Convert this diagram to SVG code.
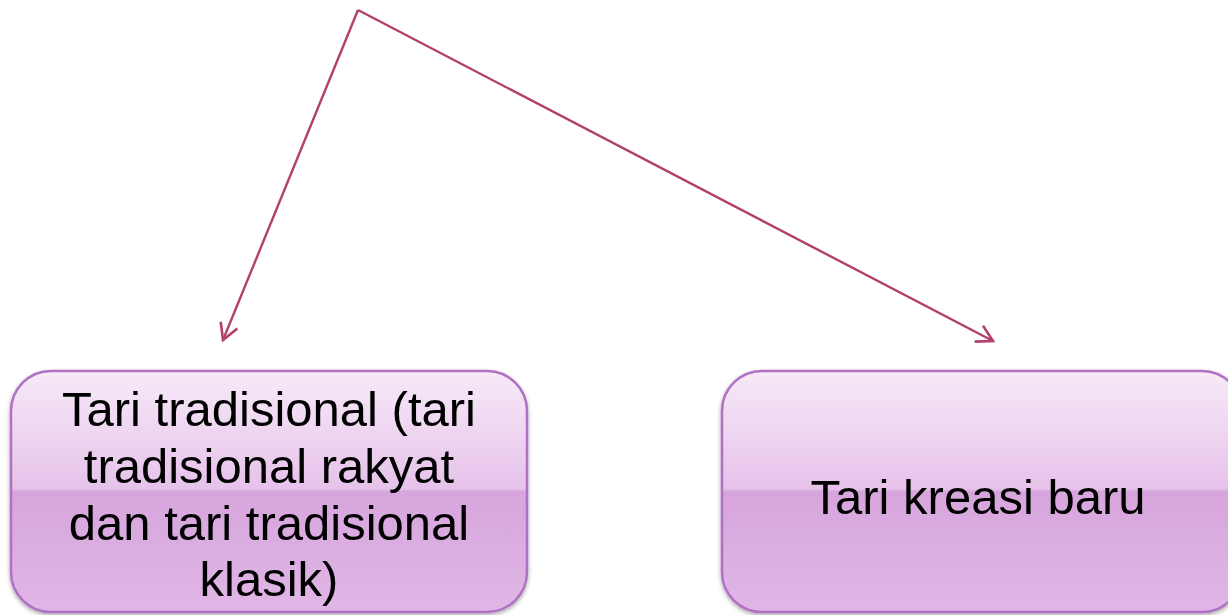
<svg xmlns="http://www.w3.org/2000/svg" width="1228" height="615" viewBox="0 0 1228 615">
<style>
.box{stroke:#b071c4;stroke-width:2.5;fill:url(#g)}
.lbl{font-family:"Liberation Sans",Arial,sans-serif;font-size:49px;fill:#000;text-anchor:middle}
.conn{stroke:#b3406c;stroke-width:2.4;fill:none}
</style>
<defs>
<linearGradient id="g" x1="0" y1="0" x2="0" y2="1">
<stop offset="0" stop-color="#f7eaf8"/>
<stop offset="0.49" stop-color="#e6c2ea"/>
<stop offset="0.5" stop-color="#d6a5dc"/>
<stop offset="1" stop-color="#e1b6e6"/>
</linearGradient>
<filter id="sh" x="-5%" y="-5%" width="110%" height="115%">
<feGaussianBlur in="SourceAlpha" stdDeviation="2"/>
<feOffset dy="2" result="b"/>
<feComponentTransfer><feFuncA type="linear" slope="0.35"/></feComponentTransfer>
<feMerge><feMergeNode/><feMergeNode in="SourceGraphic"/></feMerge>
</filter>
<marker id="arr" markerWidth="24" markerHeight="24" refX="20" refY="12" orient="auto" markerUnits="userSpaceOnUse">
<path d="M4,3 L20,12 L4,21" fill="none" stroke="#b3406c" stroke-width="2.6"/>
</marker>
</defs>
<g id="connectors">
<path class="conn" d="M358,10 L223,340" marker-end="url(#arr)"/>
<path class="conn" d="M358,10 L993,341" marker-end="url(#arr)"/>
</g>
<g id="node-tradisional">
<rect class="box" x="11" y="371" width="516" height="241" rx="40" filter="url(#sh)"/>
<text class="lbl" x="269" y="426">Tari tradisional (tari</text>
<text class="lbl" x="269" y="483">tradisional rakyat</text>
<text class="lbl" x="269" y="540">dan tari tradisional</text>
<text class="lbl" x="269" y="596">klasik)</text>
</g>
<g id="node-kreasi">
<rect class="box" x="722" y="371" width="520" height="241" rx="40" filter="url(#sh)"/>
<text class="lbl" x="978" y="514">Tari kreasi baru</text>
</g>
</svg>
